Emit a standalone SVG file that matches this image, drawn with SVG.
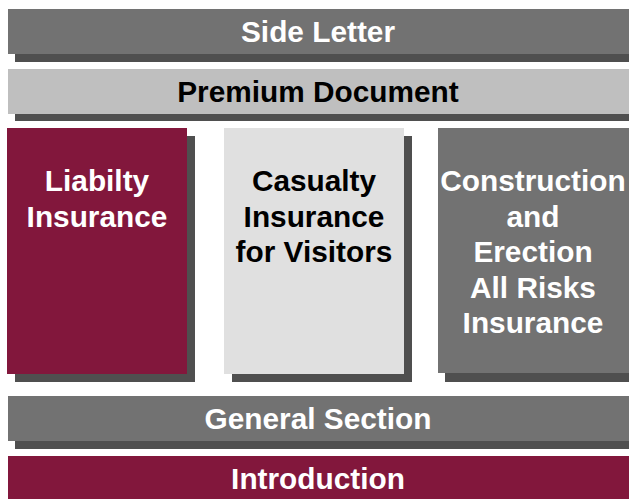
<svg xmlns="http://www.w3.org/2000/svg" width="629" height="499" viewBox="0 0 629 499">
  <style>
    .shadow { fill: #4f4f4f; }
    .dark { fill: #727272; }
    .light { fill: #bfbfbf; }
    .pale { fill: #e0e0e0; }
    .maroon { fill: #82173c; }
    text { font-family: "Liberation Sans", Arial, sans-serif; font-weight: bold; font-size: 29.8px; text-anchor: middle; }
    .w { fill: #ffffff; }
    .k { fill: #000000; }
  </style>
  <rect width="629" height="499" fill="#ffffff"/>

  <!-- top layer -->
  <g id="side-letter">
    <rect class="shadow" x="15" y="16" width="614" height="46"/>
    <rect class="dark" x="8" y="9" width="621" height="45"/>
    <text class="w" x="318" y="42">Side Letter</text>
  </g>

  <g id="premium-document">
    <rect class="shadow" x="15" y="76" width="614" height="45"/>
    <rect class="light" x="8" y="69" width="621" height="45"/>
    <text class="k" x="318" y="102">Premium Document</text>
  </g>

  <!-- insurance columns -->
  <g id="liability-insurance">
    <rect class="shadow" x="15" y="136" width="180" height="246"/>
    <rect class="maroon" x="7" y="128" width="180" height="246"/>
    <text class="w" x="97" y="191">Liabilty</text>
    <text class="w" x="97" y="226.5">Insurance</text>
  </g>

  <g id="casualty-insurance">
    <rect class="shadow" x="232" y="136" width="180" height="246"/>
    <rect class="pale" x="224" y="128" width="180" height="246"/>
    <text class="k" x="314" y="191">Casualty</text>
    <text class="k" x="314" y="226.5">Insurance</text>
    <text class="k" x="314" y="262">for Visitors</text>
  </g>

  <g id="construction-insurance">
    <rect class="shadow" x="445" y="136" width="184" height="246"/>
    <rect class="dark" x="438" y="128" width="191" height="245"/>
    <text class="w" x="533" y="191">Construction</text>
    <text class="w" x="533" y="226.5">and</text>
    <text class="w" x="533" y="262">Erection</text>
    <text class="w" x="533" y="297.5">All Risks</text>
    <text class="w" x="533" y="333">Insurance</text>
  </g>

  <!-- base layers -->
  <g id="general-section">
    <rect class="shadow" x="15" y="403" width="614" height="46"/>
    <rect class="dark" x="8" y="396" width="621" height="45"/>
    <text class="w" x="318" y="429">General Section</text>
  </g>

  <g id="introduction">
    <rect class="maroon" x="8" y="456" width="621" height="43"/>
    <text class="w" x="318" y="489">Introduction</text>
  </g>
</svg>
